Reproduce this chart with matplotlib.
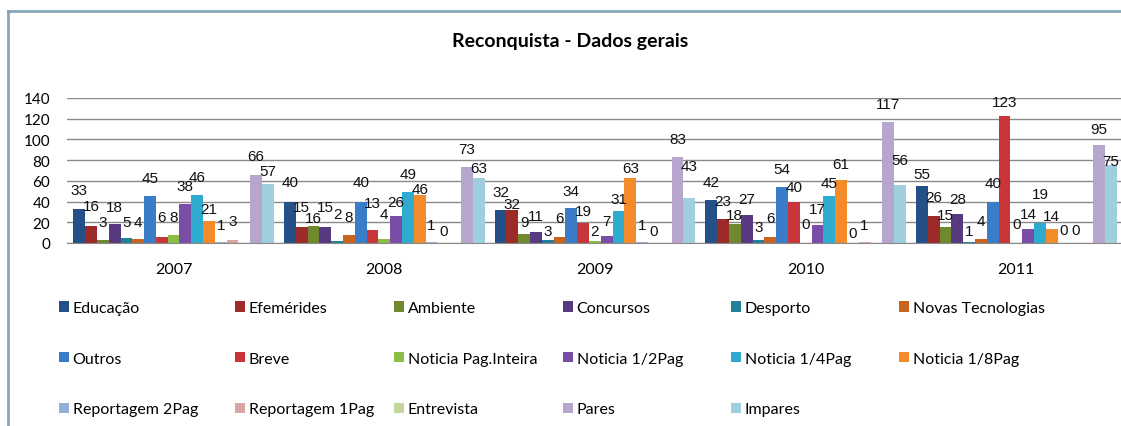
import numpy as np
import matplotlib
matplotlib.use("Agg")
import matplotlib.pyplot as plt
from matplotlib.patches import Patch
from matplotlib.lines import Line2D

# """ Chart data
years = ["2007", "2008", "2009", "2010", "2011"]
series = ["Educação", "Efemérides", "Ambiente", "Concursos", "Desporto",
          "Novas Tecnologias", "Outros", "Breve", "Noticia Pag.Inteira",
          "Noticia 1/2Pag", "Noticia 1/4Pag", "Noticia 1/8Pag",
          "Reportagem 2Pag", "Reportagem 1Pag", "Entrevista", "Pares", "Impares"]

educacao = [33, 40, 32, 42, 55]
efemerides = [16, 15, 32, 23, 26]
ambiente = [3, 16, 9, 18, 15]
concursos = [18, 15, 11, 27, 28]
desporto = [5, 2, 3, 3, 1]
novas_tec = [4, 8, 6, 6, 4]
outros = [45, 40, 34, 54, 40]
breve = [6, 13, 19, 40, 123]
noticia_inteira = [8, 4, 2, 0, 0]
noticia_meia = [38, 26, 7, 17, 14]
noticia_quarto = [46, 49, 31, 45, 19]
noticia_oitavo = [21, 46, 63, 61, 14]
reportagem_2 = [1, 1, 1, 0, 0]
reportagem_1 = [3, 0, 0, 1, 0]
entrevista = [None, None, None, None, None]
pares = [66, 73, 83, 117, 95]
impares = [57, 63, 43, 56, 75]

values = [educacao, efemerides, ambiente, concursos, desporto, novas_tec,
          outros, breve, noticia_inteira, noticia_meia, noticia_quarto,
          noticia_oitavo, reportagem_2, reportagem_1, entrevista, pares, impares]

colors = ["#254f87", "#9c2a28", "#6f8a2e", "#583a80", "#22809b", "#c8641f",
          "#3a7cc8", "#c9363a", "#8cbd45", "#7a4da6", "#2fabd0", "#f48b2b",
          "#96b1d6", "#d8a4a4", "#c3d69b", "#b6a5cc", "#9fcfdd"]

# label lift above bar top (pixels), the way excel placed them
label_lift = [
    [19, 20, 18, 17, 12], [20, 20, 6, 18, 19], [18, 8, 12, 9, 12],
    [17, 20, 16, 16, 15], [16, 27, 9, 13, 11], [17, 18, 19, 19, 18],
    [18, 20, 17, 18, 19], [20, 27, 12, 15, 14], [18, 25, 10, 19, 19],
    [18, 14, 15, 16, 14], [18, 18, 12, 13, 29], [12, 6, 10, 16, 12],
    [17, 17, 17, 10, 13], [19, 12, 12, 17, 13], [0, 0, 0, 0, 0],
    [19, 18, 18, 18, 16], [13, 10, 32, 25, 4],
]

W, H = 1121, 427
fig = plt.figure(figsize=(W / 100, H / 100), dpi=100)

# axes placed in pixels: y=0 at 244, y=140 at 99
ax = fig.add_axes([67 / W, (H - 244) / H, 1 - 67 / W, 145 / H])

x = np.arange(len(years))
bw = 0.056
n = len(series)
for j, (vals, col) in enumerate(zip(values, colors)):
    v = np.array([np.nan if a is None else a for a in vals], dtype=float)
    pos = x + (j - (n - 1) / 2) * bw
    ax.bar(pos, v, width=bw, color=col, zorder=3)
    for k, (p, a) in enumerate(zip(pos, vals)):
        if a is None:
            continue
        ax.annotate(str(a), (p, a), xytext=(0, label_lift[j][k] * 0.72),
                    textcoords="offset points",
                    ha="center", va="center", fontsize=11,
                    family="Liberation Sans", color="#111111",
                    annotation_clip=False, zorder=5)

ax.set_xlim(-0.506, 4.497)
ax.set_ylim(0, 140)
ax.set_yticks(range(0, 141, 20))
ax.set_xticks(x)
ax.set_xticklabels(years, family="Lato", fontsize=11.5)
for t in ax.get_yticklabels():
    t.set_family("Lato")
    t.set_fontsize(11)
ax.tick_params(axis="y", length=0, pad=12)
ax.tick_params(axis="x", length=0, pad=14)
ax.grid(axis="y", color="#8a8a8a", lw=1, zorder=0)
for s in ["top", "right", "left"]:
    ax.spines[s].set_visible(False)
ax.spines["bottom"].set_color("#8a8a8a")
ax.spines["bottom"].set_zorder(4)

fig.text(570 / W, 1 - 42 / H, "Reconquista - Dados gerais", ha="center",
         va="center", fontsize=14, fontweight="bold", family="Lato")

# legend: 6 columns of 3 rows
col_x = [59, 235, 394, 563, 731, 899]
for c in range(6):
    idx = [c, c + 6, c + 12]
    idx = [i for i in idx if i < n]
    handles = [Patch(facecolor=colors[i], edgecolor="none") for i in idx]
    labels = [series[i] for i in idx]
    fig.legend(handles, labels, loc="upper left",
               bbox_to_anchor=(col_x[c] / W, 1 - 302 / H),
               frameon=False, borderpad=0, borderaxespad=0,
               handlelength=0.65, handleheight=0.65, handletextpad=0.2,
               labelspacing=2.3, prop={"family": "Lato", "size": 11.5})

# chart border
fig.add_artist(Line2D([8 / W, 8 / W], [0, 1 - 12 / H], color="#85a7b8", lw=2))
fig.add_artist(Line2D([8 / W, 1], [1 - 12 / H, 1 - 12 / H], color="#85a7b8", lw=2))

fig.savefig("out.png", dpi=100)
